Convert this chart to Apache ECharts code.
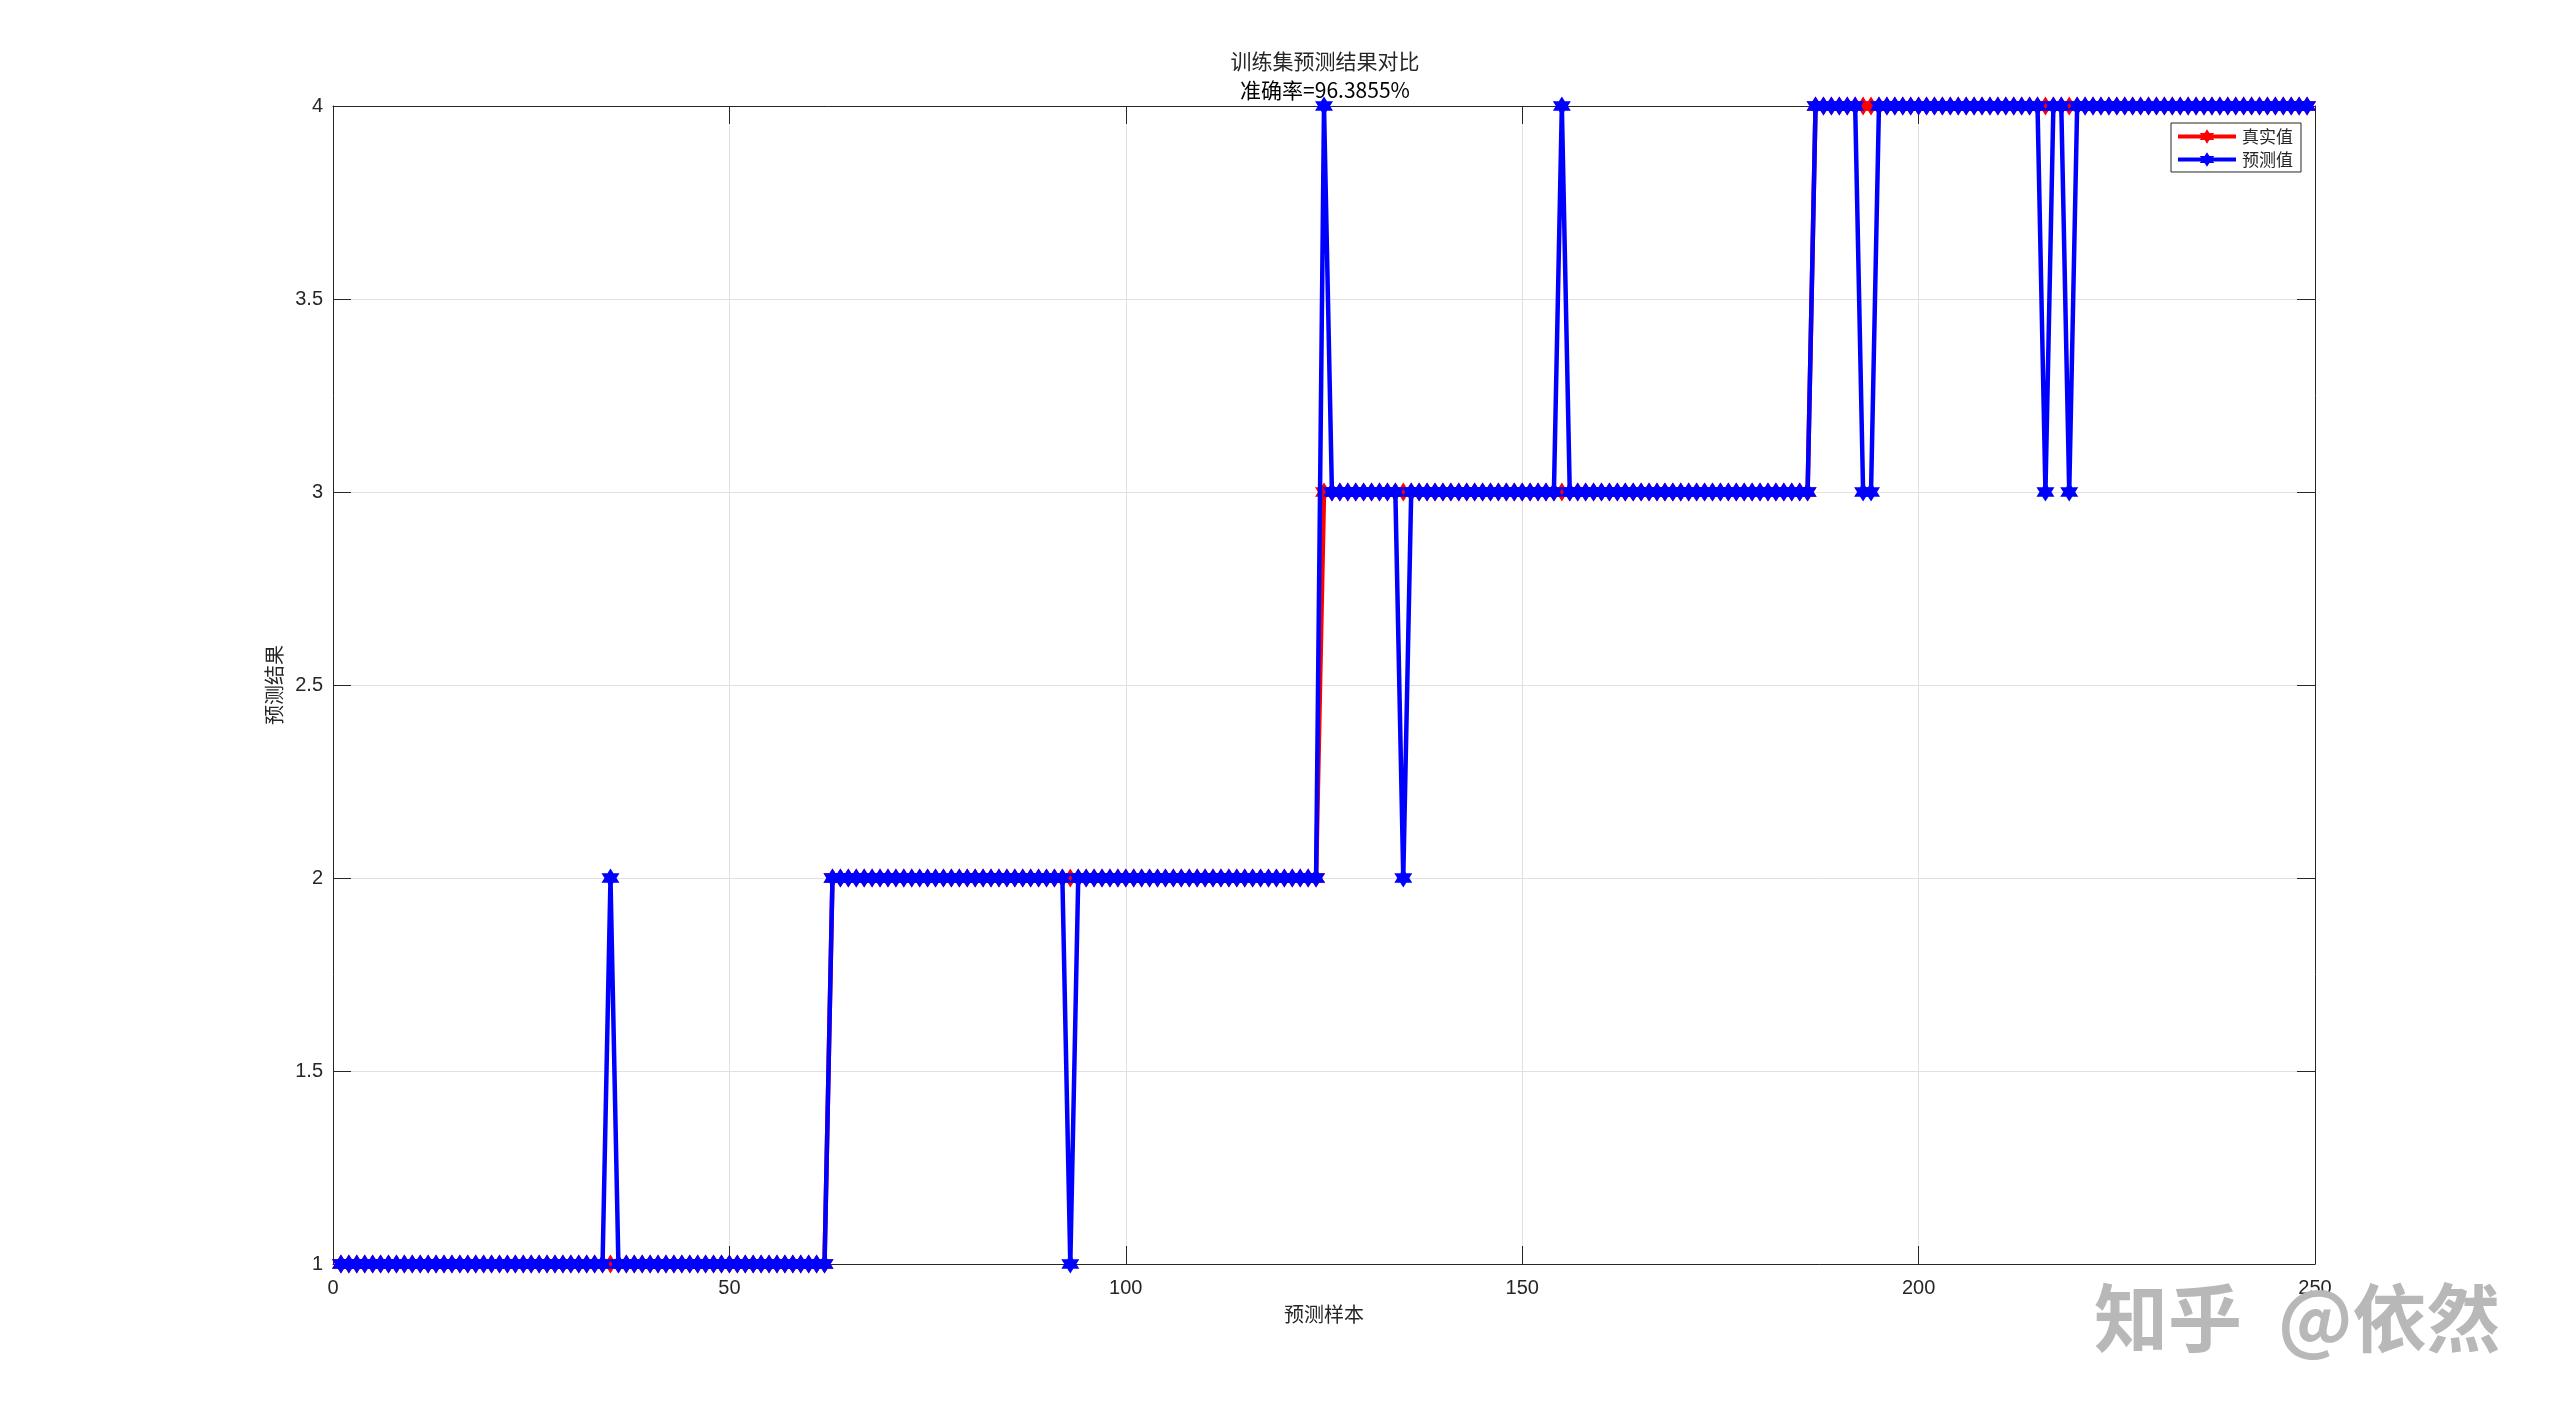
<!DOCTYPE html>
<html>
<head>
<meta charset="utf-8">
<style>
  html, body { margin: 0; padding: 0; background: #ffffff; }
  #chart { width: 2560px; height: 1420px; }
</style>
<script src="https://cdn.jsdelivr.net/npm/echarts@6/dist/echarts.min.js"></script>
</head>
<body>
<div id="chart"></div>
<script>
// ---- data ----
const titleLine1 = '训练集预测结果对比';
const titleLine2 = '准确率=96.3855%';
const xAxisName = '预测样本';
const yAxisName = '预测结果';
const seriesNames = ['真实值', '预测值'];
const xTicks = [0, 50, 100, 150, 200, 250];
const yTicks = [1, 1.5, 2, 2.5, 3, 3.5, 4];

const trueValues = [
  1,1,1,1,1,1,1,1,1,1,
  1,1,1,1,1,1,1,1,1,1,
  1,1,1,1,1,1,1,1,1,1,
  1,1,1,1,1,1,1,1,1,1,
  1,1,1,1,1,1,1,1,1,1,
  1,1,1,1,1,1,1,1,1,1,
  1,1,2,2,2,2,2,2,2,2,
  2,2,2,2,2,2,2,2,2,2,
  2,2,2,2,2,2,2,2,2,2,
  2,2,2,2,2,2,2,2,2,2,
  2,2,2,2,2,2,2,2,2,2,
  2,2,2,2,2,2,2,2,2,2,
  2,2,2,2,3,3,3,3,3,3,
  3,3,3,3,3,3,3,3,3,3,
  3,3,3,3,3,3,3,3,3,3,
  3,3,3,3,3,3,3,3,3,3,
  3,3,3,3,3,3,3,3,3,3,
  3,3,3,3,3,3,3,3,3,3,
  3,3,3,3,3,3,4,4,4,4,
  4,4,4,4,4,4,4,4,4,4,
  4,4,4,4,4,4,4,4,4,4,
  4,4,4,4,4,4,4,4,4,4,
  4,4,4,4,4,4,4,4,4,4,
  4,4,4,4,4,4,4,4,4,4,
  4,4,4,4,4,4,4,4,4
];

const predValues = [
  1,1,1,1,1,1,1,1,1,1,
  1,1,1,1,1,1,1,1,1,1,
  1,1,1,1,1,1,1,1,1,1,
  1,1,1,1,2,1,1,1,1,1,
  1,1,1,1,1,1,1,1,1,1,
  1,1,1,1,1,1,1,1,1,1,
  1,1,2,2,2,2,2,2,2,2,
  2,2,2,2,2,2,2,2,2,2,
  2,2,2,2,2,2,2,2,2,2,
  2,2,1,2,2,2,2,2,2,2,
  2,2,2,2,2,2,2,2,2,2,
  2,2,2,2,2,2,2,2,2,2,
  2,2,2,2,4,3,3,3,3,3,
  3,3,3,3,2,3,3,3,3,3,
  3,3,3,3,3,3,3,3,3,3,
  3,3,3,3,4,3,3,3,3,3,
  3,3,3,3,3,3,3,3,3,3,
  3,3,3,3,3,3,3,3,3,3,
  3,3,3,3,3,3,4,4,4,4,
  4,4,3,3,4,4,4,4,4,4,
  4,4,4,4,4,4,4,4,4,4,
  4,4,4,4,4,3,4,4,3,4,
  4,4,4,4,4,4,4,4,4,4,
  4,4,4,4,4,4,4,4,4,4,
  4,4,4,4,4,4,4,4,4
];

// ---- styles ----
const hexagram = 'path://M0,-10L2.887,-5L8.66,-5L5.774,0L8.66,5L2.887,5L0,10L-2.887,5L-8.66,5L-5.774,0L-8.66,-5L-2.887,-5Z';
const axisColor = '#262626';
const latin = '"Liberation Sans", Arial, Helvetica, sans-serif';
const cjk = '"Noto Sans CJK SC", "Liberation Sans", sans-serif';

const truePairs = trueValues.map((v, i) => [i + 1, v]);
const predPairs = predValues.map((v, i) => [i + 1, v]);

const chart = echarts.init(document.getElementById('chart'), null, { renderer: 'canvas' });

const baseX = {
  type: 'value', min: xTicks[0], max: xTicks[xTicks.length - 1], interval: 50,
  axisLine: { show: true, onZero: false, lineStyle: { color: axisColor, width: 1 } },
  axisTick: { show: true, inside: true, length: 18, lineStyle: { color: axisColor, width: 1 } }
};
const baseY = {
  type: 'value', min: yTicks[0], max: yTicks[yTicks.length - 1], interval: 0.5,
  axisLine: { show: true, onZero: false, lineStyle: { color: axisColor, width: 1 } },
  axisTick: { show: true, inside: true, length: 18, lineStyle: { color: axisColor, width: 1 } }
};

chart.setOption({
  animation: false,
  backgroundColor: '#ffffff',
  title: [
    { text: titleLine1, left: 1325, top: 51, padding: 0, textAlign: 'center',
      textStyle: { fontSize: 21, fontWeight: 'normal', color: axisColor, fontFamily: cjk } },
    { text: titleLine2, left: 1325, top: 80, padding: 0, textAlign: 'center',
      textStyle: { fontSize: 21, fontWeight: 'normal', color: '#000000', fontFamily: cjk } }
  ],
  grid: { left: 333, right: 245, top: 106, bottom: 156, containLabel: false },
  legend: {
    orient: 'vertical', right: 259, top: 123,
    data: seriesNames,
    itemWidth: 58, itemHeight: 18, itemGap: 6,
    padding: [5, 8, 4, 5],
    borderColor: axisColor, borderWidth: 1, backgroundColor: '#ffffff',
    lineStyle: { width: 4 },
    textStyle: { fontSize: 17, color: axisColor, fontFamily: cjk, padding: [0, 0, 0, 1] }
  },
  xAxis: [
    Object.assign({}, baseX, {
      position: 'bottom',
      name: xAxisName, nameLocation: 'middle', nameGap: 40,
      nameTextStyle: { fontSize: 20, color: axisColor, fontFamily: cjk },
      axisLabel: { show: true, margin: 14, fontSize: 20, color: axisColor, fontFamily: latin },
      splitLine: { show: true, lineStyle: { color: '#e0e0e0', width: 1 } }
    }),
    Object.assign({}, baseX, {
      position: 'top',
      axisLabel: { show: false },
      splitLine: { show: false }
    })
  ],
  yAxis: [
    Object.assign({}, baseY, {
      position: 'left',
      name: yAxisName, nameLocation: 'middle', nameGap: 45,
      nameTextStyle: { fontSize: 20, color: axisColor, fontFamily: cjk },
      axisLabel: { show: true, margin: 10, fontSize: 20, color: axisColor, fontFamily: latin },
      splitLine: { show: true, lineStyle: { color: '#e0e0e0', width: 1 } }
    }),
    Object.assign({}, baseY, {
      position: 'right',
      axisLabel: { show: false },
      splitLine: { show: false }
    })
  ],
  series: [
    {
      name: seriesNames[0], type: 'line', data: truePairs,
      xAxisIndex: 0, yAxisIndex: 0,
      symbol: hexagram, symbolSize: [18, 19], showAllSymbol: true,
      lineStyle: { color: '#ff0000', width: 4.5 },
      itemStyle: { color: '#ff0000', borderWidth: 0 },
      z: 2
    },
    {
      name: seriesNames[1], type: 'line', data: predPairs,
      xAxisIndex: 0, yAxisIndex: 0,
      symbol: hexagram, symbolSize: [18, 19], showAllSymbol: true,
      lineStyle: { color: '#0000ff', width: 4.5 },
      itemStyle: { color: '#0000ff', borderWidth: 0 },
      z: 3
    }
  ],
  graphic: [
    { type: 'text', left: 2094, top: 1281, z: 100,
      style: { text: '知乎', fontSize: 74, fontWeight: 'bold', fontFamily: cjk, fill: '#b8b8b8' } },
    { type: 'text', left: 2278, top: 1281, z: 100,
      style: { text: '@依然', fontSize: 74, fontWeight: 'bold', fontFamily: cjk, fill: '#b8b8b8' } }
  ]
});
</script>
</body>
</html>
